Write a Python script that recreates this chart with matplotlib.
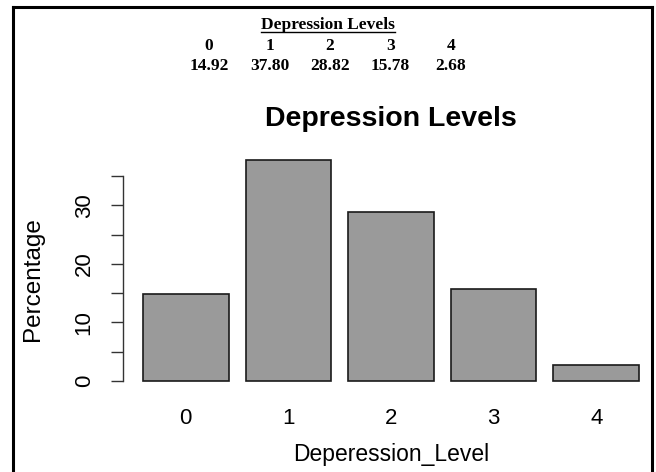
import matplotlib
matplotlib.use("Agg")
import matplotlib.pyplot as plt
import numpy as np
from matplotlib.lines import Line2D

# data
levels = ["0", "1", "2", "3", "4"]
pct = [14.92, 37.80, 28.82, 15.78, 2.68]
pct_text = ["14.92", "37.80", "28.82", "15.78", "2.68"]
yticks = [0, 5, 10, 15, 20, 25, 30, 35]
yticklabels = ["0", "", "10", "", "20", "", "30", ""]

W, H = 656, 472
plt.rcParams["font.family"] = ["Liberation Sans", "DejaVu Sans"]

fig = plt.figure(figsize=(W / 100, H / 100), dpi=100)

def px(x, y):
    return x / W, 1 - y / H

# R style barplot region
ax = fig.add_axes([123.2 / W, 1 - 389.9 / H, 535.6 / W, 239.2 / H])
x = 0.7 + 1.2 * np.arange(len(pct))
ax.bar(x, pct, width=1.0, color="#9a9a9a", edgecolor="#1a1a1a", linewidth=1.2)
ax.set_xlim(-0.032, 6.232)
ax.set_ylim(-1.512, 39.312)

for s in ["top", "right", "bottom"]:
    ax.spines[s].set_visible(False)
ax.spines["left"].set_bounds(0, 35)
ax.spines["left"].set_linewidth(1.0)
ax.spines["left"].set_color("#333333")

ax.set_yticks(yticks)
ax.set_yticklabels(yticklabels, rotation=90, va="center")
ax.tick_params(axis="y", length=8.5, width=1.0, color="#333333", pad=12, labelsize=16)
ax.set_xticks(x)
ax.set_xticklabels(levels)
ax.tick_params(axis="x", length=0, pad=13, labelsize=16)

ax.set_xlabel("Deperession_Level", fontsize=16.5, labelpad=10)
ax.set_ylabel("Percentage", fontsize=17.5)
ax.yaxis.set_label_coords((44 - 123.2) / 535.6, (389.9 - 279) / 239.2)

fig.text(*px(391, 126), "Depression Levels", fontsize=20.5, fontweight="bold",
         ha="center", va="baseline")

# summary table on top
serif = ["Liberation Serif", "DejaVu Serif"]
ttl = fig.text(*px(328, 29), "Depression Levels", family=serif, fontsize=12.5,
               fontweight="bold", ha="center", va="baseline")
for i, (lv, v) in enumerate(zip(levels, pct_text)):
    cx = 209 + 60.5 * i
    fig.text(*px(cx, 50), lv, family=serif, fontsize=12.5, fontweight="bold",
             ha="center", va="baseline")
    fig.text(*px(cx, 70), v, family=serif, fontsize=12.5, fontweight="bold",
             ha="center", va="baseline")

fig.canvas.draw()
bb = ttl.get_window_extent().transformed(fig.transFigure.inverted())
uy = 1 - 32 / H
fig.add_artist(Line2D([bb.x0, bb.x1], [uy, uy], color="black", lw=1.0,
                      transform=fig.transFigure))

# frame of the screenshot
frame = dict(color="black", lw=2.2, transform=fig.transFigure, solid_capstyle="projecting")
fig.add_artist(Line2D([13 / W, 13 / W], [0, 1 - 7 / H], **frame))
fig.add_artist(Line2D([652 / W, 652 / W], [0, 1 - 7 / H], **frame))
fig.add_artist(Line2D([13 / W, 652 / W], [1 - 7 / H, 1 - 7 / H], **frame))

fig.savefig("out.png", dpi=100)
